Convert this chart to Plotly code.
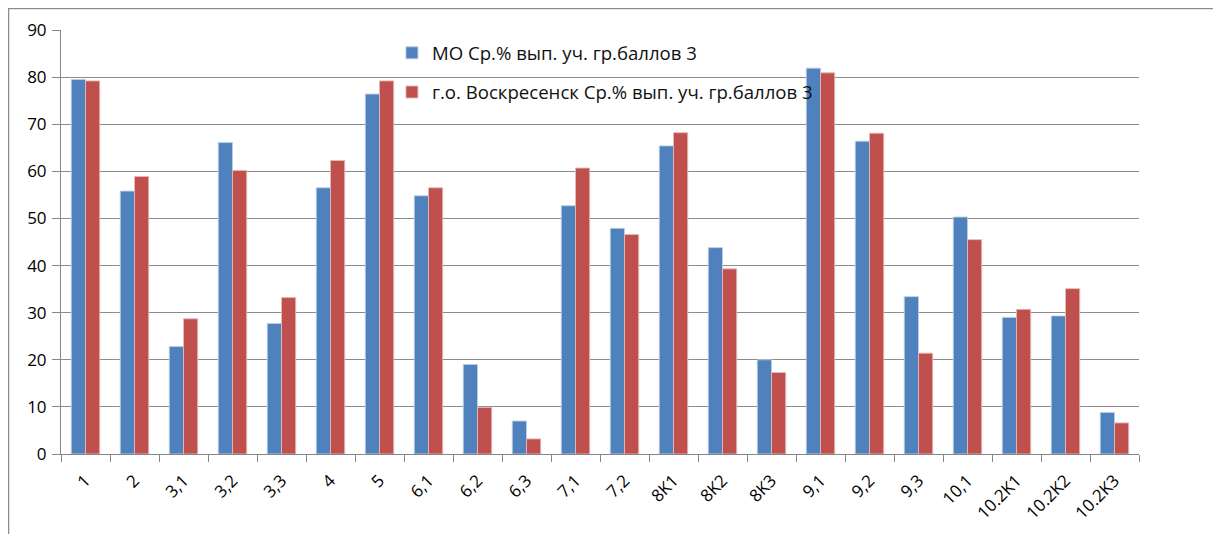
import plotly.graph_objects as go

categories = ["1", "2", "3,1", "3,2", "3,3", "4", "5", "6,1", "6,2", "6,3", "7,1", "7,2",
              "8K1", "8K2", "8K3", "9,1", "9,2", "9,3", "10,1", "10.2K1", "10.2K2", "10.2K3"]
mo_values = [79.5, 55.8, 22.8, 66.1, 27.7, 56.5, 76.4, 54.8, 19.0, 7.0, 52.7, 47.9,
             65.4, 43.8, 20.0, 81.9, 66.4, 33.4, 50.3, 29.0, 29.3, 8.8]
vos_values = [79.2, 58.9, 28.7, 60.2, 33.2, 62.3, 79.2, 56.5, 9.9, 3.2, 60.7, 46.6,
              68.2, 39.3, 17.3, 80.9, 68.1, 21.4, 45.5, 30.7, 35.1, 6.6]
series_names = ["МО Ср.% вып. уч. гр.баллов 3", "г.о. Воскресенск Ср.% вып. уч. гр.баллов 3"]
y_ticks = [0, 10, 20, 30, 40, 50, 60, 70, 80, 90]

FONT = "Open Sans"

fig = go.Figure()
fig.add_trace(go.Bar(x=categories, y=mo_values, name=series_names[0], legendgroup="a",
                     marker=dict(color="#4F81BD", line=dict(color="rgba(185,205,229,0.9)", width=1))))
fig.add_trace(go.Bar(x=categories, y=vos_values, name=series_names[1], legendgroup="b",
                     marker=dict(color="#C0504D", line=dict(color="rgba(230,185,184,0.9)", width=1))))

fig.update_layout(
    width=1213, height=526,
    margin=dict(l=53, r=82, t=22, b=80, autoexpand=False),
    paper_bgcolor="white", plot_bgcolor="white",
    barmode="group", bargap=0.42, bargroupgap=0,
    font=dict(family=FONT, size=14, color="#000"),
    showlegend=True,
    legend=dict(x=0.307, y=0.99, xanchor="left", yanchor="top",
                bgcolor="rgba(0,0,0,0)", font=dict(family=FONT, size=18.6, color="#111"),
                tracegroupgap=12, traceorder="grouped", itemwidth=30),
    xaxis=dict(type="category", tickangle=-45, ticks="outside", tickson="boundaries",
               ticklen=7, tickcolor="#868686", showline=True, linecolor="#868686", linewidth=1,
               showgrid=False, ticklabelstandoff=9,
               tickfont=dict(family=FONT, size=17, color="#000")),
    yaxis=dict(range=[0, 90], tickvals=y_ticks, ticks="outside", ticklen=8, tickcolor="#868686",
               showline=True, linecolor="#868686", linewidth=1, showgrid=True,
               gridcolor="#8C8C8C", gridwidth=1, zeroline=False, ticklabelstandoff=2,
               tickfont=dict(family=FONT, size=17, color="#000")),
    shapes=[dict(type="rect", xref="paper", yref="paper", x0=-0.0487, x1=1.072,
                 y0=-0.25, y1=1.0507, line=dict(color="#8C8C8C", width=1.5), layer="below")],
)

fig.write_html("out.html")
